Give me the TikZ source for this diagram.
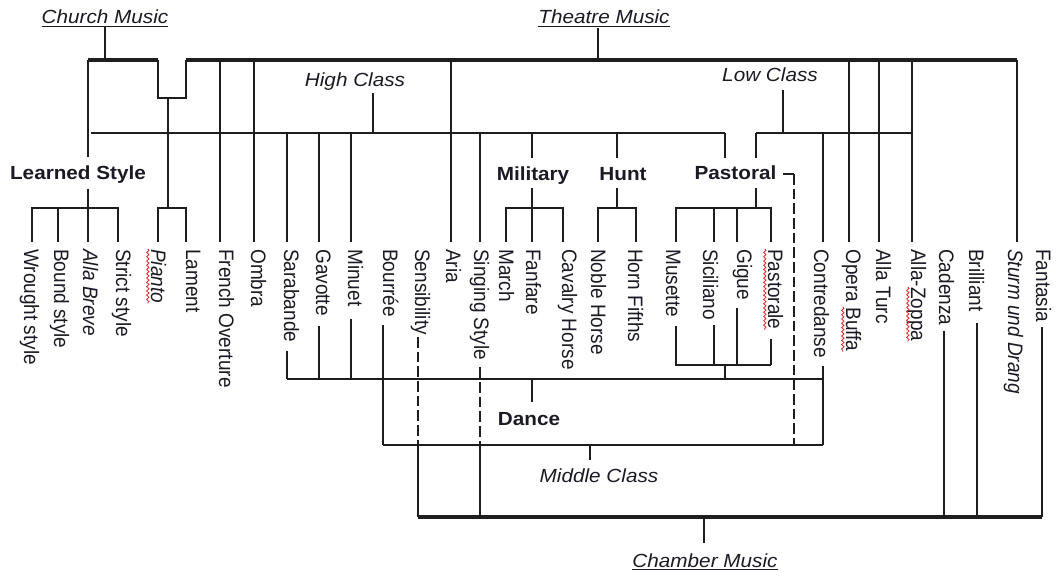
\documentclass[tikz,border=0pt]{standalone}
\usepackage{fontspec}
\usepackage{graphicx}
\setmainfont{Liberation Sans}
\newfontfamily\wide[FakeStretch=1.09]{Liberation Sans}
\usetikzlibrary{decorations.pathmorphing}
\definecolor{ink}{HTML}{1E1E1E}
\definecolor{txt}{HTML}{1A1A24}
\definecolor{spell}{HTML}{E02828}
% vertical labels are set slightly taller than wide
\newcommand{\vtxt}[1]{\scalebox{1}[1.1]{#1}}
\begin{document}
\begin{tikzpicture}[x=0.75pt,y=-0.75pt,
  ln/.style={draw=ink, line width=1.1pt},
  midbar/.style={draw=ink, line width=2pt},
  topbar/.style={draw=ink, line width=2.5pt},
  chbar/.style={draw=ink, line width=2.7pt},
  dashln/.style={ln, dash pattern=on 8pt off 3pt},
  vlab/.style={rotate=-90, anchor=base west, inner sep=0pt, text=txt,
    font=\fontsize{14.25pt}{17pt}\selectfont},
  cls/.style={anchor=base, inner sep=0pt, text=txt,
    font=\wide\fontsize{14.25pt}{17pt}\selectfont\itshape},
  grp/.style={anchor=base, inner sep=0pt, text=txt,
    font=\wide\fontsize{14.25pt}{17pt}\selectfont\bfseries},
  typo/.style={draw=spell, line width=0.6pt, decorate,
    decoration={snake, amplitude=0.9pt, segment length=3.2pt}}
]
\useasboundingbox (0,0) rectangle (1058,577);

% horizontal levels
\coordinate (Ltop) at (0,60);
\coordinate (Lhi)  at (0,133);
\coordinate (Lbr)  at (0,208);
\coordinate (Lpb)  at (0,365);
\coordinate (Lda)  at (0,379);
\coordinate (Lmi)  at (0,445);
\coordinate (Lch)  at (0,517);

% line columns, ending just above each label
\foreach \n/\x in {WR/32,BO/58,AB/88,ST/118,PI/158,LA/186,FO/220,OM/254,SA/287,
  GA/319,MI/351,BU/383,SE/418,AR/451,SI/480,MA/506,FA/532,CA/563,NH/598,HF/636,
  MU/676,SC/714,GI/737,PA/771,CO/823,OB/849,AT/879,AZ/912,CD/944,BR/977,SD/1017,FN/1042}
  \coordinate (c\n) at (\x,242);

% genre and class headings
\node[cls] (church)  at (105,24)  {\underline{Church Music}};
\node[cls] (theatre) at (604,24)  {\underline{Theatre Music}};
\node[cls] (chamber) at (705,567) {\underline{Chamber Music}};
\node[cls] (high)    at (355,87)  {High Class};
\node[cls] (low)     at (770,82)  {Low Class};
\node[cls] (middle)  at (599,483) {Middle Class};
\node[grp] (learned) at (78,180)  {Learned Style};
\node[grp] (military) at (533,181) {Military};
\node[grp] (hunt)    at (623,181) {Hunt};
\node[grp] (pastoral) at (735.5,180) {Pastoral};
\node[grp] (dance)   at (529,426) {Dance};

% topics, reading downwards
\node[vlab] (wr) at (24,249)   {\vtxt{Wrought style}};
\node[vlab] (bo) at (54,249)   {\vtxt{Bound style}};
\node[vlab] (ab) at (83,249)   {\vtxt{\itshape Alla Breve}};
\node[vlab] (st) at (116,249)  {\vtxt{Strict style}};
\node[vlab] (pi) at (151,249)  {\vtxt{\itshape Pianto}};
\node[vlab] (la) at (186,249)  {\vtxt{Lament}};
\node[vlab] (fo) at (219,249)  {\vtxt{French Overture}};
\node[vlab] (om) at (251,249)  {\vtxt{Ombra}};
\node[vlab] (sa) at (284,249)  {\vtxt{Sarabande}};
\node[vlab] (ga) at (316,249)  {\vtxt{Gavotte}};
\node[vlab] (mi) at (348,249)  {\vtxt{Minuet}};
\node[vlab] (bu) at (383,249)  {\vtxt{Bourrée}};
\node[vlab] (se) at (415,249)  {\vtxt{Sensibility}};
\node[vlab] (ar) at (446,249)  {\vtxt{Aria}};
\node[vlab] (si) at (474,249)  {\vtxt{Singing Style}};
\node[vlab] (ma) at (499,249)  {\vtxt{March}};
\node[vlab] (fa) at (526,249)  {\vtxt{Fanfare}};
\node[vlab] (ca) at (562,249)  {\vtxt{Cavalry Horse}};
\node[vlab] (nh) at (591,249)  {\vtxt{Noble Horse}};
\node[vlab] (hf) at (628,249)  {\vtxt{Horn Fifths}};
\node[vlab] (mu) at (666,249)  {\vtxt{Musette}};
\node[vlab] (sc) at (703,249)  {\vtxt{Siciliano}};
\node[vlab] (gi) at (737,249)  {\vtxt{Gigue}};
\node[vlab] (pa) at (768,249)  {\vtxt{Pastorale}};
\node[vlab] (co) at (814,249)  {\vtxt{Contredanse}};
\node[vlab] (ob) at (846,249)  {\vtxt{Opera Buffa}};
\node[vlab] (at) at (876,249)  {\vtxt{Alla Turc}};
\node[vlab] (az) at (911,249)  {\vtxt{Alla-Zoppa}};
\node[vlab] (cd) at (939,249)  {\vtxt{Cadenza}};
\node[vlab] (br) at (969,249)  {\vtxt{Brilliant}};
\node[vlab] (sd) at (1008,249) {\vtxt{\itshape Sturm und Drang}};
\node[vlab] (fn) at (1036,249) {\vtxt{Fantasia}};

% spelling marks
\draw[typo] ([xshift=-2.4pt]pi.base west) -- ([xshift=-2.4pt]pi.base east);
\draw[typo] ([xshift=-2.4pt]pa.base west) -- ([xshift=-2.4pt]pa.base east);
\draw[typo] ([shift={(-2.4pt,-43.5pt)}]ob.base west) -- ([xshift=-2.4pt]ob.base east);
\draw[typo] ([shift={(-2.4pt,-28.5pt)}]az.base west) -- ([xshift=-2.4pt]az.base east);

% theatre / church bar with its notch
\draw[ln] (church.south) -- (church.south |- Ltop);
\draw[ln] (598,28) -- (598,60);
\draw[topbar] (88,60) -- (158,60);
\draw[topbar] (186,60) -- (1017,60);
\draw[ln] (158,60) -- (158,98) -- (186,98) -- (186,60);
\foreach \c in {cFO,cOM,cAR,cOB,cAT,cAZ,cSD}
  \draw[ln] (\c |- Ltop) -- (\c);

% learned style
\draw[ln] (cAB |- Ltop) -- (88,157);
\draw[ln] (88,189) -- (cAB);
\draw[ln] (cWR) |- (cST |- Lbr) -- (cST);
\draw[ln] (cBO) -- (cBO |- Lbr);
\draw[ln] (168,98) -- (168,208);
\draw[ln] (cPI) |- (cLA |- Lbr) -- (cLA);

% high class
\draw[ln] (373,93) -- (373,133);
\draw[midbar] (91,133) -- (725,133);
\draw[ln] (725,133) -- (725,158);
\foreach \c in {cSA,cGA,cMI,cSI}
  \draw[ln] (\c |- Lhi) -- (\c);
\draw[ln] (532,133) -- (532,158);
\draw[ln] (617,133) -- (617,158);

% low class
\draw[ln] (783,90) -- (783,133);
\draw[midbar] (756,133) -- (912,133);
\draw[ln] (756,133) -- (756,158);
\draw[ln] (cCO |- Lhi) -- (cCO);

% military, hunt, pastoral
\draw[ln] (532,188) -- (532,208);
\draw[ln] (cMA) |- (cCA |- Lbr) -- (cCA);
\draw[ln] (cFA |- Lbr) -- (cFA);
\draw[ln] (617,188) -- (617,208);
\draw[ln] (cNH) |- (cHF |- Lbr) -- (cHF);
\draw[ln] (756,188) -- (756,208);
\draw[ln] (cMU) |- (cPA |- Lbr) -- (cPA);
\draw[ln] (cSC |- Lbr) -- (cSC);
\draw[ln] (cGI |- Lbr) -- (cGI);
\draw[ln] (783,174) -- (794,174);
\draw[dashln] (794,174) -- (794,445);

% pastoral topics gathered into dance
\draw[ln] (cMU |- mu.east) ++(0,9) |- (cPA |- Lpb);
\draw[ln] (cPA |- pa.east) ++(0,9) -- (cPA |- Lpb);
\draw[ln] (cSC |- sc.east) ++(0,5) -- (cSC |- Lpb);
\draw[ln] (cGI |- gi.east) ++(0,8) -- (cGI |- Lpb);
\draw[ln] (725,365) -- (725,379);

% dance
\draw[ln] (cSA |- sa.east) ++(0,8) -- (cSA |- Lda);
\draw[ln] (cGA |- ga.east) ++(0,10) -- (cGA |- Lda);
\draw[ln] (cMI |- mi.east) ++(0,12) -- (cMI |- Lda);
\draw[ln] (cSA |- Lda) -- (cCO |- Lda);
\draw[ln] (532,379) -- (532,402);

% middle class
\draw[ln] (cBU |- bu.east) ++(0,8) -- (cBU |- Lmi);
\draw[ln] (cCO |- co.east) ++(0,8) -- (cCO |- Lmi);
\draw[midbar] (cBU |- Lmi) -- (cCO |- Lmi);
\draw[ln] (590,445) -- (590,460);

% chamber music
\draw[dashln] (cSE |- se.east) ++(0,2) -- (cSE |- Lmi);
\draw[ln] (cSE |- Lmi) -- (cSE |- Lch);
\draw[dashln] (cSI |- si.east) ++(0,7) -- (cSI |- Lmi);
\draw[ln] (cSI |- Lmi) -- (cSI |- Lch);
\draw[ln] (cCD |- cd.east) ++(0,5) -- (cCD |- Lch);
\draw[ln] (cBR |- br.east) ++(0,11) -- (cBR |- Lch);
\draw[ln] (cFN |- fn.east) ++(0,5) -- (cFN |- Lch);
\draw[chbar] (cSE |- Lch) -- (cFN |- Lch);
\draw[ln] (704,517) -- (704,543);
\end{tikzpicture}
\end{document}
